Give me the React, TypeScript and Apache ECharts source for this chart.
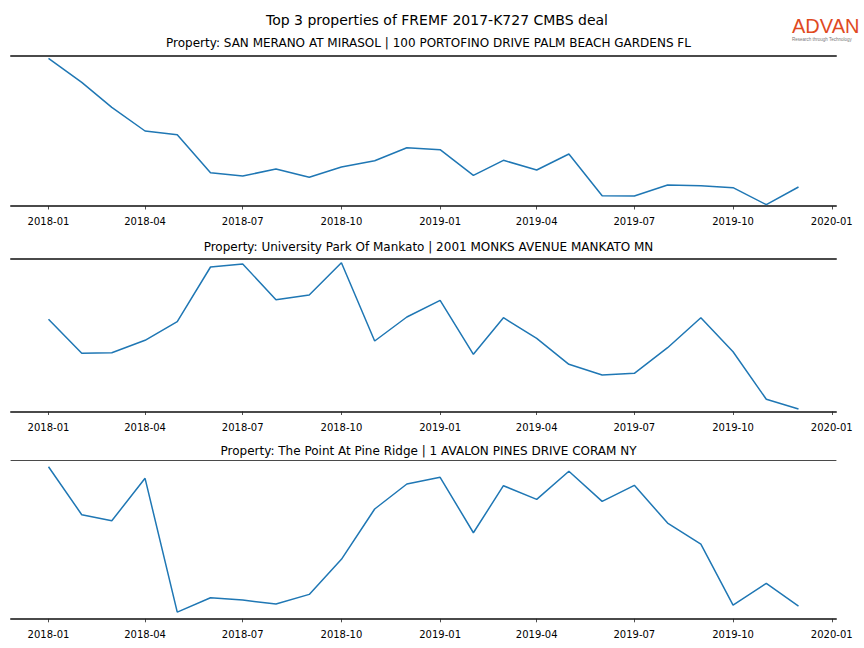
import React, { useEffect, useRef } from "react";
import * as echarts from "echarts";

const mainTitle = "Top 3 properties of FREMF 2017-K727 CMBS deal";
const propertyTitles = [
  "Property: SAN MERANO AT MIRASOL | 100 PORTOFINO DRIVE PALM BEACH GARDENS FL",
  "Property: University Park Of Mankato | 2001 MONKS AVENUE MANKATO MN",
  "Property: The Point At Pine Ridge | 1 AVALON PINES DRIVE CORAM NY",
];

const months = [
  "2018-01", "2018-02", "2018-03", "2018-04", "2018-05", "2018-06",
  "2018-07", "2018-08", "2018-09", "2018-10", "2018-11", "2018-12",
  "2019-01", "2019-02", "2019-03", "2019-04", "2019-05", "2019-06",
  "2019-07", "2019-08", "2019-09", "2019-10", "2019-11", "2019-12",
];

const sanMerano = [1477, 1237, 987, 750, 713, 333, 300, 370, 287, 390, 453, 583, 563, 307, 457, 360, 520, 103, 100, 210, 203, 183, 13, 190];
const universityPark = [922, 582, 588, 712, 898, 1445, 1475, 1118, 1165, 1488, 705, 945, 1112, 572, 938, 732, 472, 365, 382, 638, 938, 598, 122, 25];
const pointPineRidge = [1520, 1040, 980, 1404, 67, 210, 187, 147, 244, 594, 1097, 1347, 1414, 860, 1330, 1194, 1474, 1174, 1334, 957, 747, 137, 354, 127];

const seriesValues = [sanMerano, universityPark, pointPineRidge];
const yRanges = [[0, 1500], [0, 1525], [0, 1584]];

const tickLabels = ["2018-01", "2018-04", "2018-07", "2018-10", "2019-01", "2019-04", "2019-07", "2019-10", "2020-01"];

const dayIndex = (s: string) => {
  const [y, m] = s.split("-").map(Number);
  return (Date.UTC(y, m - 1, 1) - Date.UTC(2018, 0, 1)) / 86400000;
};

const xs = months.map(dayIndex);
const tickDays = tickLabels.map(dayIndex);
const labelByDay: Record<string, string> = {};
tickLabels.forEach((l, i) => (labelByDay[String(tickDays[i])] = l));
const span = xs[xs.length - 1] - xs[0];
const xMin = xs[0] - span * 0.05;
const xMax = xs[xs.length - 1] + span * 0.05;

const grids = [
  { left: 11, right: 28, top: 56, height: 150 },
  { left: 11, right: 28, top: 259, height: 152.5 },
  { left: 11, right: 28, top: 460.3, height: 158.5 },
];
const subtitleTops = [32, 236, 440];
const spineColor = "#4a4a4a";

export default function App() {
  const ref = useRef<HTMLDivElement>(null);
  useEffect(() => {
    if (!ref.current) return;
    const chart = echarts.init(ref.current, null, { renderer: "svg" });
    const xAxis: any[] = [];
    const yAxis: any[] = [];
    const series: any[] = [];
    grids.forEach((g, i) => {
      xAxis.push({
        type: "value", gridIndex: i, min: xMin, max: xMax, position: "bottom", offset: 5.5,
        splitLine: { show: false },
        axisLine: { show: false },
        axisTick: { show: true, length: 3.5, customValues: tickDays, lineStyle: { color: "#222", width: 0.8 } },
        axisLabel: {
          show: true, customValues: tickDays, margin: 5, color: "#000", fontSize: 10,
          fontFamily: "DejaVu Sans", formatter: (v: number) => labelByDay[String(v)] ?? "",
        },
      });
      xAxis.push({
        type: "value", gridIndex: i, min: xMin, max: xMax, position: "bottom", offset: 0,
        splitLine: { show: false }, axisTick: { show: false }, axisLabel: { show: false },
        axisLine: { show: true, lineStyle: { color: spineColor, width: 2 } },
      });
      xAxis.push({
        type: "value", gridIndex: i, min: xMin, max: xMax, position: "top",
        splitLine: { show: false }, axisTick: { show: false }, axisLabel: { show: false },
        axisLine: { show: true, lineStyle: { color: spineColor, width: i === 2 ? 1 : 2 } },
      });
      yAxis.push({
        type: "value", gridIndex: i, min: yRanges[i][0], max: yRanges[i][1],
        show: false, splitLine: { show: false },
      });
      series.push({
        type: "line", xAxisIndex: i * 3, yAxisIndex: i, symbol: "none",
        lineStyle: { color: "#1f77b4", width: 1.5 },
        data: xs.map((x, k) => [x, seriesValues[i][k]]),
      });
    });
    chart.setOption({
      animation: false,
      backgroundColor: "#ffffff",
      title: [
        { text: mainTitle, left: 432, top: 8, textAlign: "center",
          textStyle: { fontSize: 14, fontWeight: "normal", color: "#000", fontFamily: "DejaVu Sans" } },
        ...propertyTitles.map((t, i) => ({
          text: t, left: 423.5, top: subtitleTops[i], textAlign: "center",
          textStyle: { fontSize: 12, fontWeight: "normal", color: "#000", fontFamily: "DejaVu Sans" },
        })),
      ],
      grid: grids,
      xAxis,
      yAxis,
      series,
      graphic: [
        { type: "text", left: 792, top: 16,
          style: { text: "ADVAN", fontSize: 20, lineHeight: 20, fontWeight: "normal", fill: "#e04a1f", fontFamily: "Liberation Sans" } },
        { type: "text", left: 792, top: 37,
          style: { text: "Research through Technology", fontSize: 4.5, lineHeight: 5, fill: "#777", fontFamily: "Liberation Sans" } },
      ],
    });
    return () => chart.dispose();
  }, []);
  return <div ref={ref} style={{ width: 864, height: 648, position: "absolute", left: 0, top: 0 }} />;
}
